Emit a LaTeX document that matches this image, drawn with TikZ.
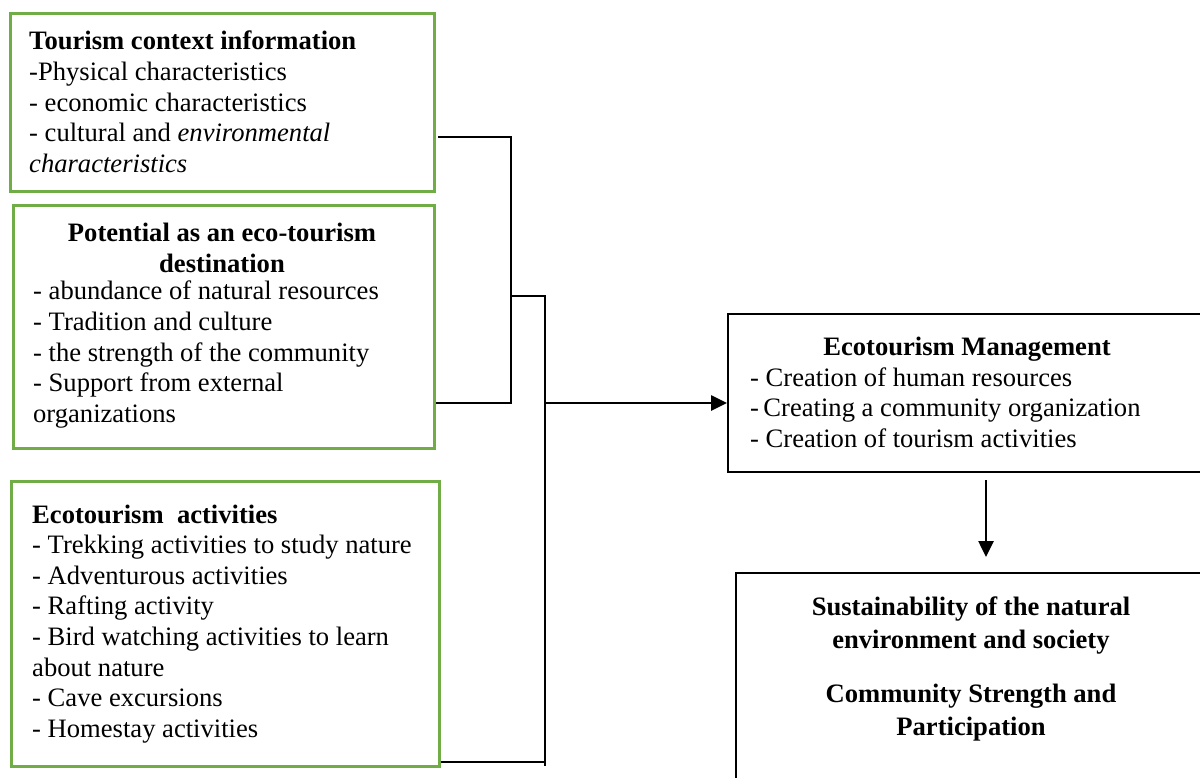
\documentclass[tikz,border=0pt]{standalone}
\usepackage{fontspec}
\setmainfont{Liberation Serif}
\usetikzlibrary{arrows.meta}
\definecolor{boxgreen}{RGB}{112,173,71}
\newcommand\llines[1]{\begin{tabular}[t]{@{}l@{}}#1\end{tabular}}
\newcommand\clines[1]{\begin{tabular}[t]{@{}c@{}}#1\end{tabular}}
\begin{document}
\begin{tikzpicture}[x=1pt,y=-1pt,
  gbox/.style={draw=boxgreen,line width=2.6pt,anchor=north west,inner sep=0pt},
  kbox/.style={draw=black,line width=2.4pt,anchor=north west,inner sep=0pt},
  txt/.style={inner sep=0pt,font=\fontsize{26.6}{30.6}\selectfont},
  ttxt/.style={inner sep=0pt,font=\fontsize{26.6}{33}\selectfont},
  conn/.style={draw=black,line width=2.6pt},
  arr/.style={conn,-{Triangle[length=16pt,width=15pt]}}]
\useasboundingbox (0,0) rectangle (1200,778);
\clip (0,0) rectangle (1200,778);
% boxes
\node[gbox,minimum width=424pt,minimum height=178pt] (b1) at (9,12) {};
\node[gbox,minimum width=421pt,minimum height=243pt] (b2) at (12,204) {};
\node[gbox,minimum width=428pt,minimum height=285pt] (b3) at (10,480) {};
\node[kbox,minimum width=500pt,minimum height=158pt] (b4) at (727,313) {};
\node[kbox,minimum width=500pt,minimum height=240pt] (b5) at (735,572) {};
% texts
\node[txt,anchor=base west] (t1) at (29,50) {\llines{\textbf{Tourism context information}\\
-Physical characteristics\\
- economic characteristics\\
- cultural and \textit{environmental}\\
\textit{characteristics}}};
\node[txt,anchor=base] (t2h) at (222,242) {\clines{\textbf{Potential as an eco-tourism}\\\textbf{destination}}};
\node[txt,anchor=base west] (t2) at (33,300) {\llines{- abundance of natural resources\\
- Tradition and culture\\
- the strength of the community\\
- Support from external\\
organizations}};
\node[txt,anchor=base west] (t3) at (32,523) {\llines{\textbf{Ecotourism\ \ activities}\\
- Trekking activities to study nature\\
- Adventurous activities\\
- Rafting activity\\
- Bird watching activities to learn\\
about nature\\
- Cave excursions\\
- Homestay activities}};
\node[txt,anchor=base] (t4h) at (967,355) {\textbf{Ecotourism Management}};
\node[txt,anchor=base west] (t4) at (750,386) {\llines{- Creation of human resources\\
-\,Creating a community organization\\
- Creation of tourism activities}};
\node[ttxt,anchor=base] (t5a) at (971,615) {\clines{\textbf{Sustainability of the natural}\\\textbf{environment and society}}};
\node[ttxt,anchor=base] (t5b) at (971,702) {\clines{\textbf{Community Strength and}\\\textbf{Participation}}};
% connector coordinates
\coordinate (c1) at (438,137);
\coordinate (c2) at (511,137);
\coordinate (c3) at (511,403);
\coordinate (m1) at (511,296);
\coordinate (m2) at (545,296);
\coordinate (m3) at (545,766);
\coordinate (c5) at (545,762);
\coordinate (a0) at (545,403);
\coordinate (d0) at (986,480);
\coordinate (d1) at (986,557);
% connectors
\draw[conn] (c1) -- (c2) -- (c3) -- (b2.east |- c3);
\draw[conn] (m1) -- (m2) -- (m3);
\draw[conn] (b3.east |- c5) -- (c5);
\draw[arr] (a0) -- (b4.west |- a0);
\draw[arr] (d0) -- (d1);
\end{tikzpicture}
\end{document}
